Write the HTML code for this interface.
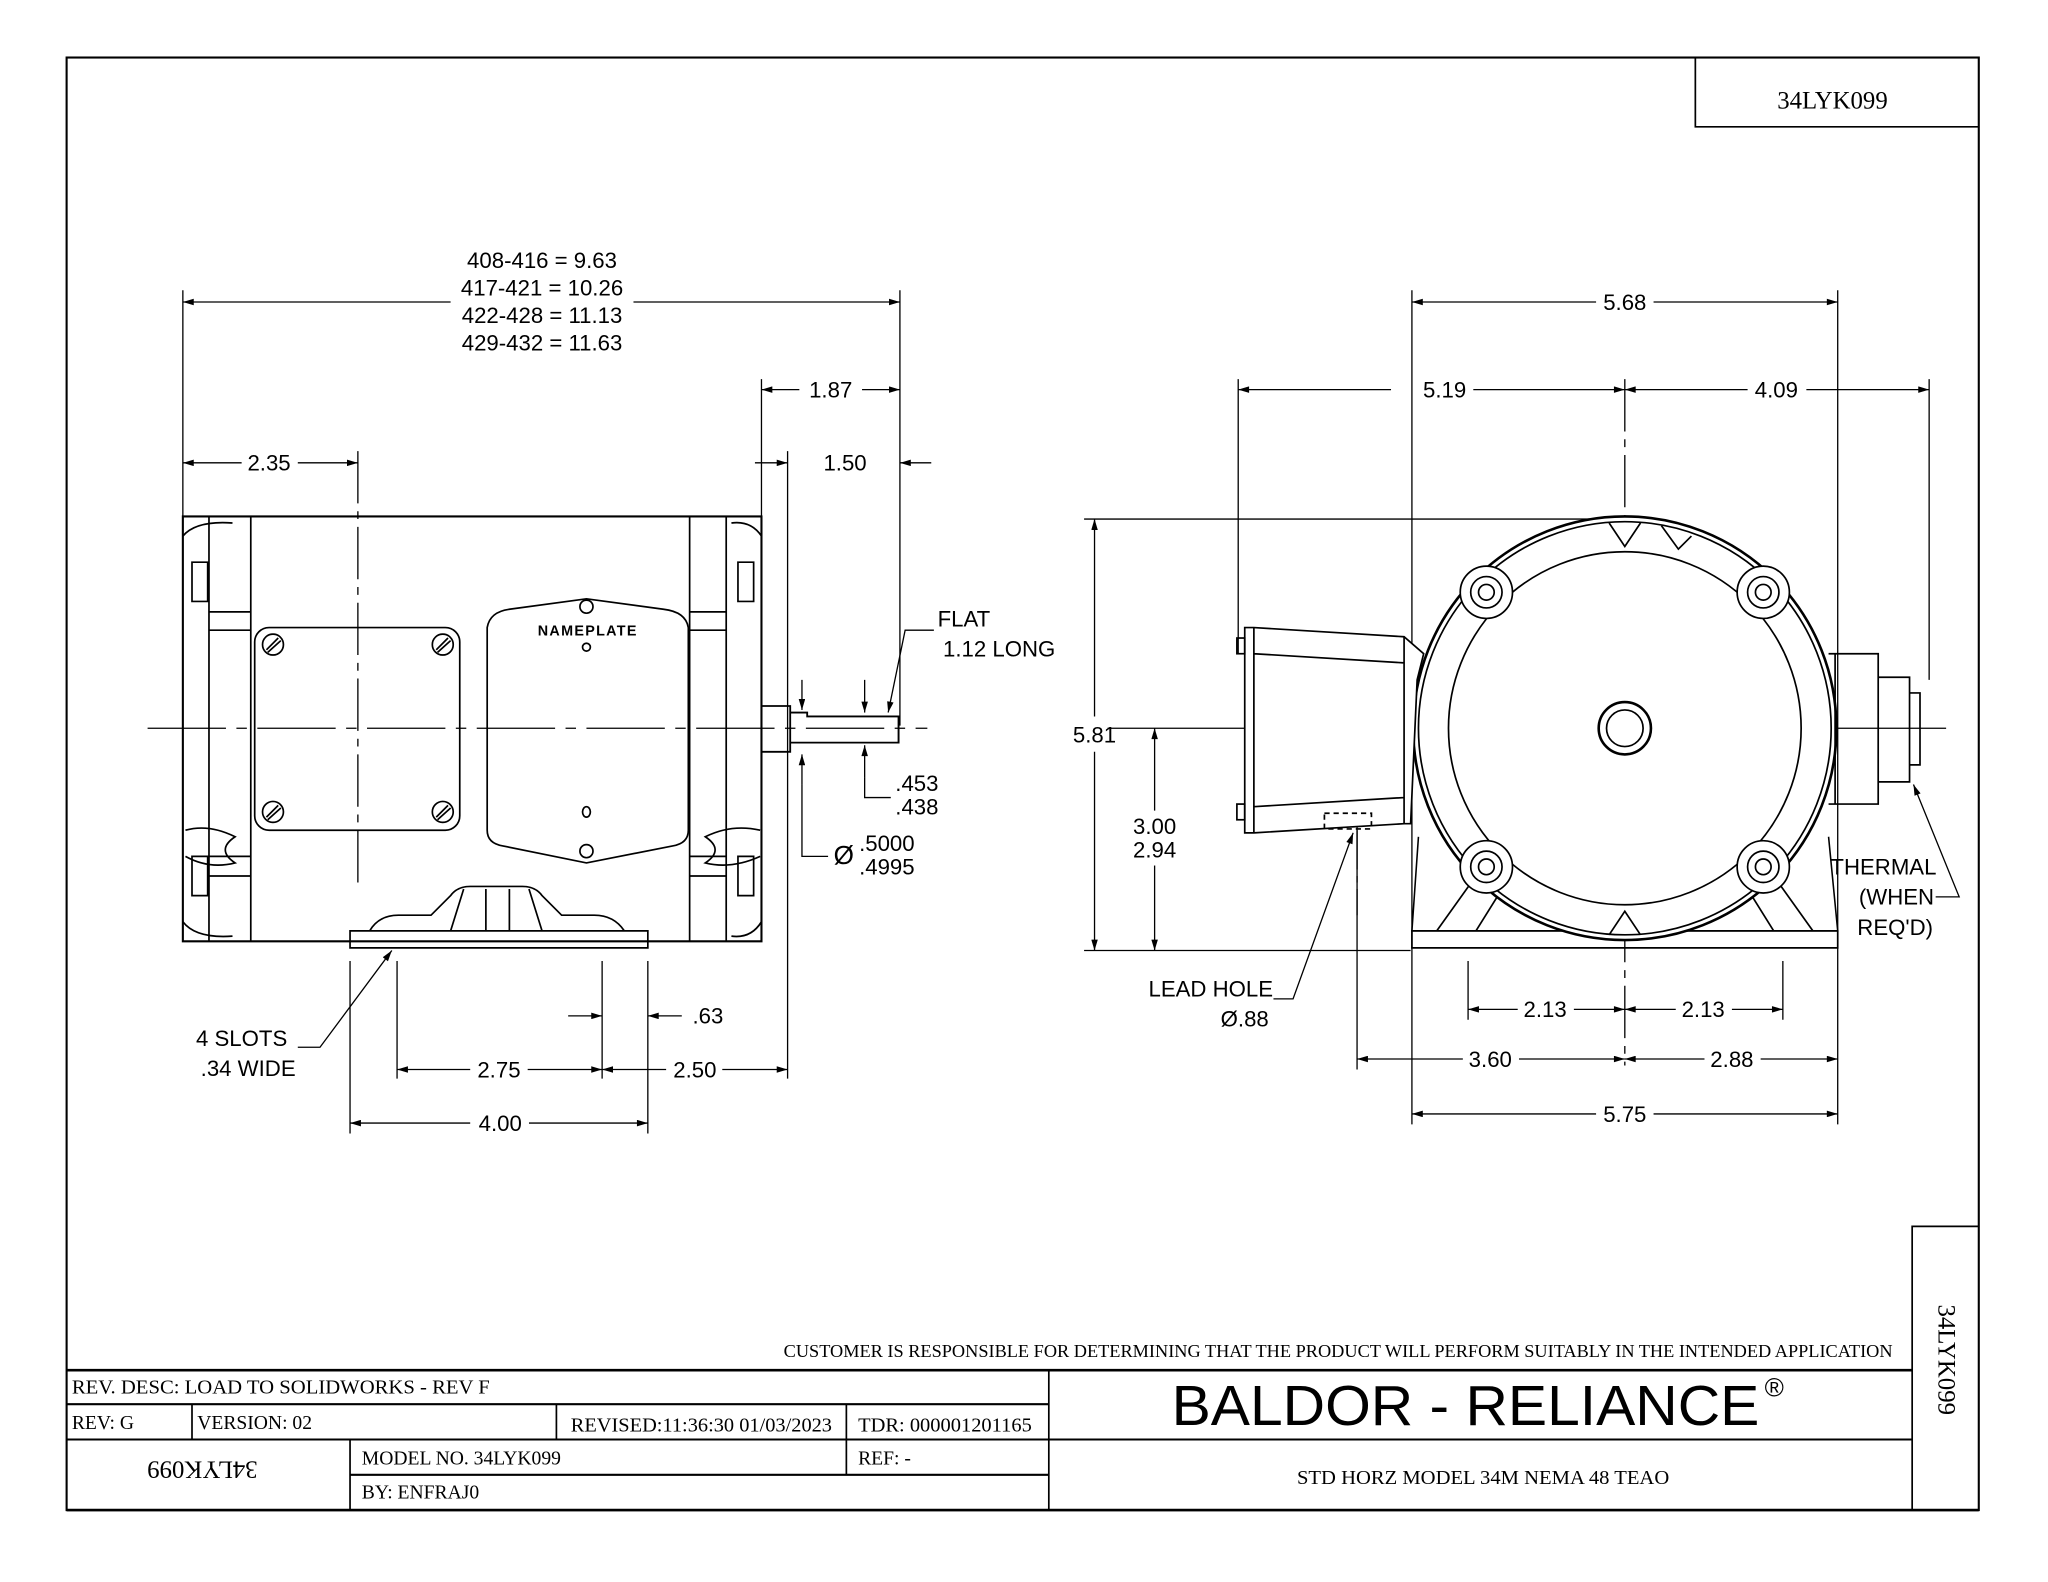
<!DOCTYPE html>
<html><head><meta charset="utf-8"><style>
html,body{margin:0;padding:0;background:#fff}
svg{display:block}
text{font-family:"Liberation Sans",sans-serif;fill:#000}
.s{font-family:"Liberation Serif",serif}
</style></head><body>
<svg width="2048" height="1582" viewBox="0 0 1568 1210" preserveAspectRatio="none" xmlns="http://www.w3.org/2000/svg">
<defs>
<marker id="a" viewBox="0 0 10 6" refX="10" refY="3" markerWidth="14" markerHeight="5" markerUnits="userSpaceOnUse" orient="auto-start-reverse"><path d="M0,0 L10,3 L0,6 z" fill="#000"/></marker>
</defs>
<g fill="none" stroke="#000" stroke-width="1.3">
<rect x="51" y="44" width="1464" height="1111" stroke-width="1.6"/>
<path d="M1298 44 V97 H1515"/>
<path d="M1464 1155 V938 H1515"/>
<path d="M51 1048 H1464" stroke-width="2"/>
<path d="M51 1074 H803 M51 1101 H1464 M268 1128 H803" stroke-width="1.6"/>
<path d="M803 1048 V1155 M147 1074 V1101 M426 1074 V1101 M648 1074 V1128 M268 1101 V1155"/>
<path d="M51 1155 H1515" stroke-width="2"/>

<g stroke-width="1">
<path d="M140 222 V395 M689 222 V555 M583 290 V395 M603 345 V825 M268 735 V867 M496 735 V867 M304 735 V825 M461 735 V825"/>
<path d="M140 231 H345" marker-start="url(#a)"/><path d="M485 231 H689" marker-end="url(#a)"/>
<path d="M583 298 H612" marker-start="url(#a)"/><path d="M660 298 H689" marker-end="url(#a)"/>
<path d="M578 354 H603" marker-end="url(#a)"/><path d="M713 354 H689" marker-end="url(#a)"/>
<path d="M140 354 H185" marker-start="url(#a)"/><path d="M228 354 H274" marker-end="url(#a)"/>
<path d="M268 859 H360" marker-start="url(#a)"/><path d="M405 859 H496" marker-end="url(#a)"/>
<path d="M304 818 H360" marker-start="url(#a)"/><path d="M404 818 H461" marker-end="url(#a)"/>
<path d="M461 818 H510" marker-start="url(#a)"/><path d="M553 818 H603" marker-end="url(#a)"/>
<path d="M435 777 H461" marker-end="url(#a)"/><path d="M522 777 H496" marker-end="url(#a)"/>
<path d="M228 801 H245 L300 727" marker-end="url(#a)"/>
<path d="M715 482 H693 L680 545" marker-end="url(#a)"/>
<path d="M662 520 V545" marker-end="url(#a)"/><path d="M662 595 V570" marker-end="url(#a)"/><path d="M662 595 V610 H682"/>
<path d="M614 520 V543" marker-end="url(#a)"/><path d="M614 600 V577" marker-end="url(#a)"/><path d="M614 600 V655 H634"/>
<path d="M274 345 V680" stroke-dasharray="40 6 6 6"/>
<path d="M113 557 H710" stroke-dasharray="60 8 8 8"/>
</g>
<path d="M140 395 H583 V720 H140 Z" stroke-width="1.6"/>
<path d="M160 395 V720 M192 395 V720 M528 395 V720 M556 395 V720"/>
<path d="M140 410 Q150 398 178 400 M140 705 Q150 718 178 716 M583 410 Q575 398 560 400 M583 705 Q575 718 560 716"/>
<path d="M147 430 h12 v30 h-12z M147 655 h12 v30 h-12z M565 430 h12 v30 h-12z M565 655 h12 v30 h-12z"/>
<path d="M192 468 H160 M192 482 H160 M192 655 H160 M192 670 H160 M528 468 H556 M528 482 H556 M528 655 H556 M528 670 H556"/>
<path d="M142 635 Q160 630 180 640 Q165 650 180 660 Q160 665 142 655 M582 635 Q560 630 540 640 Q555 650 540 660 Q560 665 582 655"/>
<rect x="195" y="480" width="157" height="155" rx="11"/>
<g><circle cx="209" cy="493" r="8"/><circle cx="339" cy="493" r="8"/><circle cx="209" cy="621" r="8"/><circle cx="339" cy="621" r="8"/>
<path d="M204 497 L213 488 M205 499 L215 490 M334 497 L343 488 M335 499 L345 490 M204 625 L213 616 M205 627 L215 618 M334 625 L343 616 M335 627 L345 618"/></g>
<path d="M373 480 Q375 468 390 466 L449 458 L508 466 Q525 468 527 480 V635 Q527 645 515 647 L449 660 L385 647 Q373 645 373 635 Z"/>
<circle cx="449" cy="464" r="5"/><circle cx="449" cy="495" r="3"/><ellipse cx="449" cy="621" rx="3" ry="4"/><circle cx="449" cy="651" r="5"/>
<path d="M268 712 H496 V725 H268 Z"/>
<path d="M283 712 Q290 700 305 700 H330 L345 685 Q350 678 360 678 H400 Q410 678 415 685 L430 700 H455 Q470 700 478 712"/>
<path d="M355 680 L345 712 M405 680 L415 712 M372 680 V712 M390 680 V712"/>
<path d="M583 540 H605 V575 H583 M605 545 H618 V548 H688 V568 H605" stroke-width="1.4"/>
<path d="M688 548 V568"/>

<g stroke-width="1">
<path d="M1081 222 V860 M1407 222 V860 M948 290 V500 M1477 290 V520 M1124 735 V780 M1365 735 V780 M1039 590 V818"/>
<path d="M830 397 H1244 M830 727 H1080 M848 557 H1490"/>
<path d="M1081 231 H1222" marker-start="url(#a)"/><path d="M1266 231 H1407" marker-end="url(#a)"/>
<path d="M948 298 H1065" marker-start="url(#a)"/><path d="M1128 298 H1244" marker-end="url(#a)"/>
<path d="M1244 298 H1338" marker-start="url(#a)"/><path d="M1383 298 H1477" marker-end="url(#a)"/>
<path d="M838 397 V548" marker-start="url(#a)"/><path d="M838 575 V727" marker-end="url(#a)"/>
<path d="M884 557 V620" marker-start="url(#a)"/><path d="M884 662 V727" marker-end="url(#a)"/>
<path d="M1124 772 H1162" marker-start="url(#a)"/><path d="M1205 772 H1244" marker-end="url(#a)"/>
<path d="M1244 772 H1283" marker-start="url(#a)"/><path d="M1326 772 H1365" marker-end="url(#a)"/>
<path d="M1039 810 H1120" marker-start="url(#a)"/><path d="M1163 810 H1244" marker-end="url(#a)"/>
<path d="M1244 810 H1305" marker-start="url(#a)"/><path d="M1348 810 H1407" marker-end="url(#a)"/>
<path d="M1081 852 H1222" marker-start="url(#a)"/><path d="M1266 852 H1407" marker-end="url(#a)"/>
<path d="M975 764 H990 L1036 637" marker-end="url(#a)"/>
<path d="M1482 686 H1500 L1465 600" marker-end="url(#a)"/>
<path d="M1244 290 V815" stroke-dasharray="40 6 6 6"/>
<path d="M1039 590 V700" stroke-dasharray="30 5 5 5"/>
</g>
<path d="M1086 640 L1081 712 H1407 L1400 640" stroke-width="1.2"/>
<path d="M1081 712 H1407 V725 H1081 Z"/>
<path d="M1100 712 L1130 670 M1130 712 L1150 680 M1388 712 L1358 670 M1358 712 L1338 680"/>
<circle cx="1244" cy="557" r="162" fill="#fff" stroke-width="2"/>
<circle cx="1244" cy="557" r="158"/>
<circle cx="1244" cy="557" r="135"/>
<circle cx="1244" cy="557" r="20" stroke-width="2"/><circle cx="1244" cy="557" r="14"/>
<path d="M1232 400 L1244 418 L1256 400 M1272 402 L1285 420 L1295 410 M1232 715 L1244 697 L1256 715"/>
<g fill="#fff">
<circle cx="1138" cy="453" r="20"/><circle cx="1350" cy="453" r="20"/><circle cx="1138" cy="663" r="20"/><circle cx="1350" cy="663" r="20"/>
</g>
<circle cx="1138" cy="453" r="12"/><circle cx="1350" cy="453" r="12"/><circle cx="1138" cy="663" r="12"/><circle cx="1350" cy="663" r="12"/>
<circle cx="1138" cy="453" r="6"/><circle cx="1350" cy="453" r="6"/><circle cx="1138" cy="663" r="6"/><circle cx="1350" cy="663" r="6"/>
<path d="M953 480 H960 L1075 487 L1090 500 L1085 520 L1080 630 L1075 630 L960 637 H953 Z" fill="#fff"/>
<path d="M960 480 V637 M960 500 L1075 507 M960 617 L1075 610 M1075 487 V630"/>
<rect x="947" y="488" width="6" height="12"/><rect x="947" y="615" width="6" height="12"/>
<rect x="1014" y="622" width="36" height="12" stroke-dasharray="4 3"/>
<path d="M1400 500 H1438 V615 H1400 M1405 500 V615"/>
<path d="M1438 518 H1462 V598 H1438 M1462 530 H1470 V585 H1462"/>
</g>

<g font-size="17" text-anchor="middle">
<text x="415" y="205">408-416 = 9.63</text>
<text x="415" y="226">417-421 = 10.26</text>
<text x="415" y="247">422-428 = 11.13</text>
<text x="415" y="268">429-432 = 11.63</text>
<text x="636" y="304">1.87</text>
<text x="647" y="360">1.50</text>
<text x="206" y="360">2.35</text>
<text x="383" y="865">4.00</text>
<text x="382" y="824">2.75</text>
<text x="532" y="824">2.50</text>
<text x="542" y="783">.63</text>
<text x="185" y="800">4 SLOTS</text>
<text x="190" y="823">.34 WIDE</text>
<text x="738" y="479">FLAT</text>
<text x="765" y="502">1.12 LONG</text>
<text x="702" y="605">.453</text>
<text x="702" y="623">.438</text>
<text x="646" y="661" font-size="20">Ø</text>
<text x="679" y="651">.5000</text>
<text x="679" y="669">.4995</text>
<text x="1244" y="237">5.68</text>
<text x="1106" y="304">5.19</text>
<text x="1360" y="304">4.09</text>
<text x="838" y="568">5.81</text>
<text x="884" y="638">3.00</text>
<text x="884" y="656">2.94</text>
<text x="1183" y="778">2.13</text>
<text x="1304" y="778">2.13</text>
<text x="1141" y="816">3.60</text>
<text x="1326" y="816">2.88</text>
<text x="1244" y="858">5.75</text>
<text x="927" y="762">LEAD HOLE</text>
<text x="953" y="785">Ø.88</text>
<text x="1442" y="669">THERMAL</text>
<text x="1452" y="692">(WHEN</text>
<text x="1451" y="715">REQ'D)</text>
<text x="450" y="486" font-size="11" font-weight="bold" letter-spacing="1">NAMEPLATE</text>
</g>
<g class="s" font-size="15">
<text class="s" x="1403" y="83" font-size="19" text-anchor="middle">34LYK099</text>
<text class="s" x="600" y="1038" font-size="14" textLength="849" lengthAdjust="spacingAndGlyphs">CUSTOMER IS RESPONSIBLE FOR DETERMINING THAT THE PRODUCT WILL PERFORM SUITABLY IN THE INTENDED APPLICATION</text>
<text class="s" x="55" y="1066" textLength="320" lengthAdjust="spacingAndGlyphs">REV. DESC: LOAD TO SOLIDWORKS - REV F</text>
<text class="s" x="55" y="1093">REV:  G</text>
<text class="s" x="151" y="1093">VERSION: 02</text>
<text class="s" x="437" y="1095" textLength="200" lengthAdjust="spacingAndGlyphs">REVISED:11:36:30 01/03/2023</text>
<text class="s" x="657" y="1095" textLength="133" lengthAdjust="spacingAndGlyphs">TDR: 000001201165</text>
<text class="s" x="277" y="1120">MODEL NO. 34LYK099</text>
<text class="s" x="657" y="1120">REF:  -</text>
<text class="s" x="277" y="1146">BY:    ENFRAJ0</text>
<text class="s" x="993" y="1135" textLength="285" lengthAdjust="spacingAndGlyphs">STD HORZ MODEL 34M NEMA 48 TEAO</text>
<text class="s" x="0" y="0" font-size="19" text-anchor="middle" transform="translate(155 1118) rotate(180)">34LYK099</text>
<text class="s" x="0" y="0" font-size="19" text-anchor="middle" transform="translate(1484 1040) rotate(90)">34LYK099</text>
</g>
<text x="897" y="1090" font-size="43" textLength="450" lengthAdjust="spacingAndGlyphs">BALDOR - RELIANCE</text>
<text x="1351" y="1068" font-size="20">®</text>
</svg>
</body></html>
